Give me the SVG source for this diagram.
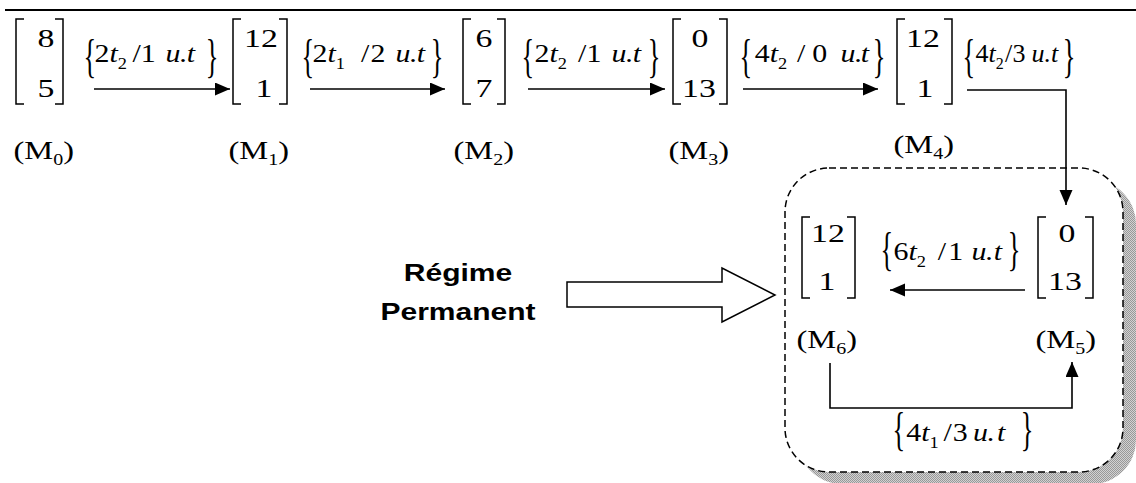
<svg xmlns="http://www.w3.org/2000/svg" width="1136" height="483" viewBox="0 0 1136 483">
  <style>
    .m { font-family: "Liberation Serif", "Times New Roman", serif; font-size: 26px; fill: #000; }
    .i { font-style: italic; }
    .s { font-size: 16px; }
    .b { font-family: "Liberation Serif", "Times New Roman", serif; font-size: 22px; fill: #000; }
    .mid { text-anchor: middle; }
    .end { text-anchor: end; }
    .br { fill: none; stroke: #000; stroke-width: 1.5; }
    .ln { fill: none; stroke: #000; stroke-width: 1.6; }
    .bold { font-family: "Liberation Sans", Arial, sans-serif; font-weight: bold; font-size: 24px; text-anchor: middle; }
  </style>
  <defs>
    <marker id="ah" markerWidth="16" markerHeight="14" refX="15" refY="6.5" orient="auto" markerUnits="userSpaceOnUse">
      <path d="M0,0 L15,6.5 L0,13 Z" fill="#000"/>
    </marker>
    <pattern id="dots" width="2" height="2" patternUnits="userSpaceOnUse">
      <rect width="2" height="2" fill="#d2d2d2"/>
      <rect width="1" height="1" fill="#989898"/>
      <rect x="1" y="1" width="1" height="1" fill="#989898"/>
    </pattern>
  </defs>

  <rect width="1136" height="483" fill="#fff"/>
  <line x1="5" y1="10" x2="1136" y2="10" stroke="#000" stroke-width="2"/>

  <!-- steady-state region -->
  <g id="regime">
    <rect x="798" y="180" width="338" height="304" rx="44" fill="url(#dots)"/>
    <rect x="785" y="168" width="338" height="304" rx="44" fill="#fff" stroke="#000" stroke-width="1.5" stroke-dasharray="7 4"/>
    <text class="bold" transform="translate(458,281) scale(1.25,1)">Régime</text>
    <text class="bold" transform="translate(458,320) scale(1.25,1)">Permanent</text>
    <polygon points="567,282 722,282 722,268 775,295 722,322 722,307 567,307" fill="#fff" stroke="#000" stroke-width="1.5"/>
  </g>

  <!-- markings -->
  <g id="M0">
    <path class="br" d="M24,19 H16 V104 H24 M55,19 H63 V104 H55"/>
    <text class="m mid" transform="translate(46,47) scale(1.3,1)">8</text>
    <text class="m mid" transform="translate(46,97) scale(1.3,1)">5</text>
    <text class="m" transform="translate(13.5,159) scale(1.25,1)">(M<tspan class="s" y="6">0</tspan><tspan y="0">)</tspan></text>
  </g>
  <g id="M1">
    <path class="br" d="M241,19 H233 V104 H241 M279,19 H287 V104 H279"/>
    <text class="m mid" transform="translate(261,47) scale(1.3,1)">12</text>
    <text class="m mid" transform="translate(264,97) scale(1.3,1)">1</text>
    <text class="m" transform="translate(228.5,159) scale(1.25,1)">(M<tspan class="s" y="6">1</tspan><tspan y="0">)</tspan></text>
  </g>
  <g id="M2">
    <path class="br" d="M471,19 H463 V104 H471 M497,19 H505 V104 H497"/>
    <text class="m mid" transform="translate(484,47) scale(1.3,1)">6</text>
    <text class="m mid" transform="translate(484,97) scale(1.3,1)">7</text>
    <text class="m" transform="translate(453.5,159) scale(1.25,1)">(M<tspan class="s" y="6">2</tspan><tspan y="0">)</tspan></text>
  </g>
  <g id="M3">
    <path class="br" d="M681,19 H673 V104 H681 M719,19 H727 V104 H719"/>
    <text class="m mid" transform="translate(700,47) scale(1.3,1)">0</text>
    <text class="m mid" transform="translate(699,97) scale(1.3,1)">13</text>
    <text class="m" transform="translate(668.5,159) scale(1.25,1)">(M<tspan class="s" y="6">3</tspan><tspan y="0">)</tspan></text>
  </g>
  <g id="M4">
    <path class="br" d="M905,19 H897 V104 H905 M944,19 H952 V104 H944"/>
    <text class="m mid" transform="translate(923,47) scale(1.3,1)">12</text>
    <text class="m mid" transform="translate(925,97) scale(1.3,1)">1</text>
    <text class="m" transform="translate(893.5,153) scale(1.25,1)">(M<tspan class="s" y="6">4</tspan><tspan y="0">)</tspan></text>
  </g>
  <g id="M5">
    <path class="br" d="M1046,217 H1038 V298 H1046 M1085,217 H1093 V298 H1085"/>
    <text class="m mid" transform="translate(1067,242) scale(1.3,1)">0</text>
    <text class="m mid" transform="translate(1065,290) scale(1.3,1)">13</text>
    <text class="m" transform="translate(1035.5,348) scale(1.25,1)">(M<tspan class="s" y="6">5</tspan><tspan y="0">)</tspan></text>
  </g>
  <g id="M6">
    <path class="br" d="M810,217 H802 V298 H810 M847,217 H855 V298 H847"/>
    <text class="m mid" transform="translate(828,242) scale(1.3,1)">12</text>
    <text class="m mid" transform="translate(827,290) scale(1.3,1)">1</text>
    <text class="m" transform="translate(796.5,348) scale(1.25,1)">(M<tspan class="s" y="6">6</tspan><tspan y="0">)</tspan></text>
  </g>

  <!-- transitions -->
  <g id="connectors">
    <line class="ln" x1="94" y1="89" x2="230" y2="89" marker-end="url(#ah)"/>
    <line class="ln" x1="310" y1="89" x2="445" y2="89" marker-end="url(#ah)"/>
    <line class="ln" x1="528" y1="89" x2="665" y2="89" marker-end="url(#ah)"/>
    <line class="ln" x1="743" y1="89" x2="878" y2="89" marker-end="url(#ah)"/>
    <polyline class="ln" points="967,90 1066,90 1066,205" marker-end="url(#ah)"/>
    <line class="ln" x1="1025" y1="290" x2="890" y2="290" marker-end="url(#ah)"/>
    <polyline class="ln" points="830,363 830,408 1072,408 1072,362" marker-end="url(#ah)"/>

    <!-- firing labels {n t_k / d u.t} -->
    <g id="t01">
      <text class="b" transform="translate(83.5,71.5) scale(1.2,2.1)">{</text>
      <text class="m" transform="translate(87,62) scale(1.15,1)"><tspan x="6.5" y="0">2</tspan><tspan class="i">t</tspan><tspan class="s" y="7">2</tspan><tspan x="39.5" y="0">/</tspan><tspan x="46.8">1</tspan><tspan class="i" x="68.3">u</tspan><tspan class="i" x="80.9">.</tspan><tspan class="i" x="86.8">t</tspan></text>
      <text class="b end" transform="translate(218.5,71.5) scale(1.2,2.1)">}</text>
    </g>
    <g id="t12">
      <text class="b" transform="translate(301.5,71.5) scale(1.2,2.1)">{</text>
      <text class="m" transform="translate(305,62) scale(1.15,1)"><tspan x="6.5" y="0">2</tspan><tspan class="i">t</tspan><tspan class="s" y="7">1</tspan><tspan x="48.7" y="0">/</tspan><tspan x="57">2</tspan><tspan class="i" x="78.7">u</tspan><tspan class="i" x="91.3">.</tspan><tspan class="i" x="97.2">t</tspan></text>
      <text class="b end" transform="translate(443.5,71.5) scale(1.2,2.1)">}</text>
    </g>
    <g id="t23">
      <text class="b" transform="translate(521.5,71.5) scale(1.2,2.1)">{</text>
      <text class="m" transform="translate(525,62) scale(1.15,1)"><tspan x="8.3" y="0">2</tspan><tspan class="i">t</tspan><tspan class="s" y="7">2</tspan><tspan x="46.1" y="0">/</tspan><tspan x="53.5">1</tspan><tspan class="i" x="75.2">u</tspan><tspan class="i" x="87.8">.</tspan><tspan class="i" x="93.7">t</tspan></text>
      <text class="b end" transform="translate(660.5,71.5) scale(1.2,2.1)">}</text>
    </g>
    <g id="t34">
      <text class="b" transform="translate(739.5,71.5) scale(1.2,2.1)">{</text>
      <text class="m" transform="translate(743,62) scale(1.15,1)"><tspan x="10.2" y="0">4</tspan><tspan class="i">t</tspan><tspan class="s" y="7">2</tspan><tspan x="47" y="0">/</tspan><tspan x="60.3">0</tspan><tspan class="i" x="84.8">u</tspan><tspan class="i" x="97.4">.</tspan><tspan class="i" x="102.4">t</tspan></text>
      <text class="b end" transform="translate(885.5,71.5) scale(1.2,2.1)">}</text>
    </g>
    <g id="t45">
      <text class="b" transform="translate(962.5,71.5) scale(1.2,2.1)">{</text>
      <text class="m" transform="translate(967,62)"><tspan x="8.5" y="0">4</tspan><tspan class="i">t</tspan><tspan class="s" y="7">2</tspan><tspan x="38" y="0">/</tspan><tspan x="45.5">3</tspan><tspan class="i" x="64.5">u</tspan><tspan class="i" x="77.5">.</tspan><tspan class="i" x="84">t</tspan></text>
      <text class="b end" transform="translate(1075.5,71.5) scale(1.2,2.1)">}</text>
    </g>
    <g id="t56">
      <text class="b" transform="translate(880.5,264.5) scale(1.2,2.1)">{</text>
      <text class="m" transform="translate(885,260) scale(1.15,1)"><tspan x="7.5" y="0">6</tspan><tspan class="i">t</tspan><tspan class="s" y="7">2</tspan><tspan x="45.8" y="0">/</tspan><tspan x="55">1</tspan><tspan class="i" x="75.2">u</tspan><tspan class="i" x="87.8">.</tspan><tspan class="i" x="94.6">t</tspan></text>
      <text class="b end" transform="translate(1020.5,264.5) scale(1.2,2.1)">}</text>
    </g>
    <g id="t65">
      <text class="b" transform="translate(892.5,444.5) scale(1.2,2.1)">{</text>
      <text class="m" transform="translate(897,441) scale(1.15,1)"><tspan x="8" y="0">4</tspan><tspan class="i">t</tspan><tspan class="s" y="7">1</tspan><tspan x="40.5" y="0">/</tspan><tspan x="48.5">3</tspan><tspan class="i" x="66.2">u</tspan><tspan class="i" x="78.8">.</tspan><tspan class="i" x="87">t</tspan></text>
      <text class="b end" transform="translate(1033.5,444.5) scale(1.2,2.1)">}</text>
    </g>
  </g>
</svg>
